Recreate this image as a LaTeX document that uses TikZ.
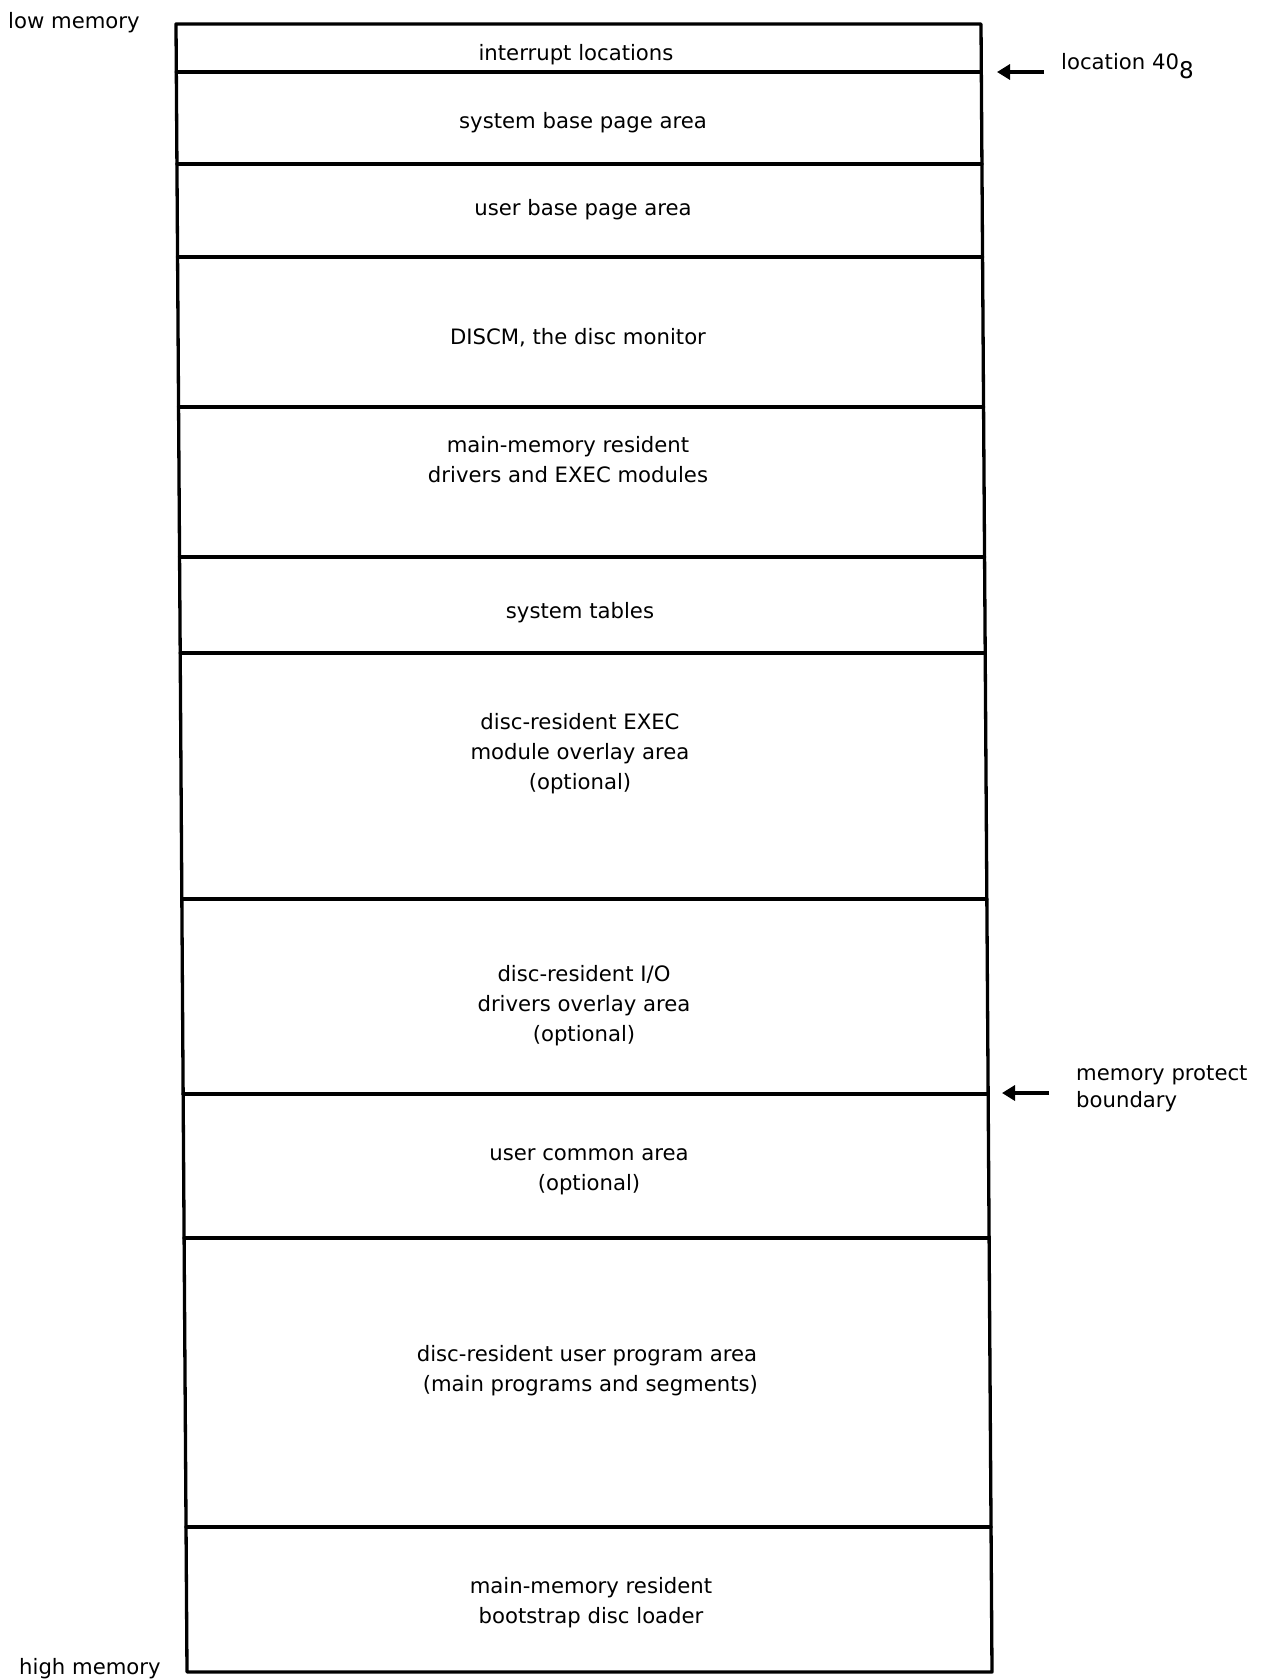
\documentclass[tikz,border=0pt]{standalone}
\usepackage{fontspec}
\setmainfont{DejaVu Sans}
\usetikzlibrary{calc,arrows.meta}
\begin{document}
\begin{tikzpicture}[x=1pt,y=-1pt,
  frame/.style={line width=3.3pt, line cap=round, line join=round},
  lbl/.style={font=\fontsize{21.2}{30}\selectfont, align=center, inner sep=0pt},
  side/.style={font=\fontsize{21.2}{27}\selectfont, align=left, inner sep=0pt, anchor=west},
  pointer/.style={line width=4.8pt, -{Triangle[length=13pt,width=15pt]}}]
\useasboundingbox (0,0) rectangle (1262,1679);
% outer frame of the memory map (slightly skewed as printed)
\coordinate (TL) at (176,24);
\coordinate (TR) at (981,24);
\coordinate (BL) at (187,1672);
\coordinate (BR) at (992,1672);
\draw[frame] (TL) -- (TR) -- (BR) -- (BL) -- cycle;
% region dividers
\foreach \yy in {72,164,257,407,557,653,899,1094,1238,1527}
  \draw[frame] ($(TL)!{(\yy-24)/1648}!(BL)$) -- ($(TR)!{(\yy-24)/1648}!(BR)$);
% region labels
\node[lbl] (intr) at (576,54.5) {interrupt locations};
\node[lbl] (sbp) at (583,122.5) {system base page area};
\node[lbl] (ubp) at (583,209.5) {user base page area};
\node[lbl] (discm) at (578,337.5) {DISCM, the disc monitor};
\node[lbl] (mmdrv) at (568,459.5) {main-memory resident\\drivers and EXEC modules};
\node[lbl] (tables) at (580,612.5) {system tables};
\node[lbl] (execov) at (580,753.5) {disc-resident EXEC\\module overlay area\\(optional)};
\node[lbl] (ioov) at (584,1005.5) {disc-resident I/O\\drivers overlay area\\(optional)};
\node[lbl] (common) at (589,1171.5) {user common area\\(optional)};
\node[lbl] (userprog) at (587,1370.5) {disc-resident user program area\\\ (main programs and segments)};
\node[lbl] (boot) at (591,1602.5) {main-memory resident\\bootstrap disc loader};
% ends of the address range
\node[side] (low) at (8,22.5) {low memory};
\node[side] (high) at (19,1668.5) {high memory};
% boundary pointers
\node[side] (loc) at (1061,66.5) {location 40\raisebox{-9pt}{\fontsize{23}{27}\selectfont 8}};
\coordinate (locA) at (1044,72);
\coordinate (locB) at (997,72);
\draw[pointer] (locA) -- (locB);
\node[side] (mpb) at (1076,1088.5) {memory protect\\boundary};
\coordinate (mpA) at (1049,1093);
\coordinate (mpB) at (1002,1093);
\draw[pointer] (mpA) -- (mpB);
\end{tikzpicture}
\end{document}
